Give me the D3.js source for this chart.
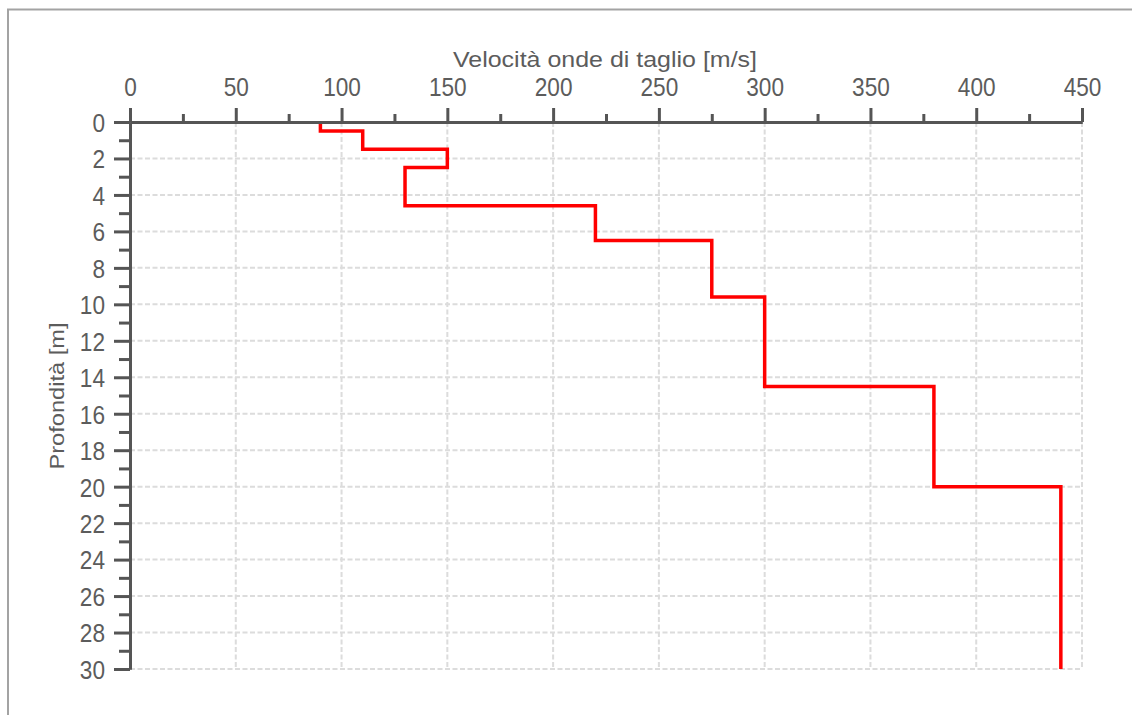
<!DOCTYPE html>
<html>
<head>
<meta charset="utf-8">
<script src="https://cdn.jsdelivr.net/npm/d3@7"></script>
<style>
  html, body { margin: 0; padding: 0; background: #fff; }
  svg { display: block; }
  .lbl { font-family: "Liberation Sans", Arial, sans-serif; fill: #5c5c5c; }
  .tick text { font-family: "Liberation Sans", Arial, sans-serif; font-size: 26px; fill: #5c5c5c;
               transform-box: fill-box; transform: scaleX(0.87); }
  .xaxis .tick text { transform-origin: center center; }
  .yaxis .tick text { transform-origin: right center; }
</style>
</head>
<body>
<svg id="chart" width="1132" height="715"></svg>
<script>
// ---- data ----
const velocity    = [90, 110, 150, 130, 220, 275, 300, 380, 440];      // Vs [m/s]
const layerTop    = [0, 0.5, 1.5, 2.5, 4.6, 6.5, 9.6, 14.5, 20];         // depth [m]
const layerBottom = [0.5, 1.5, 2.5, 4.6, 6.5, 9.6, 14.5, 20, 30];        // depth [m]
const xMajorTicks = [0, 50, 100, 150, 200, 250, 300, 350, 400, 450];
const xMinorTicks = [25, 75, 125, 175, 225, 275, 325, 375, 425];
const yMajorTicks = [0, 2, 4, 6, 8, 10, 12, 14, 16, 18, 20, 22, 24, 26, 28, 30];
const yMinorTicks = [1, 3, 5, 7, 9, 11, 13, 15, 17, 19, 21, 23, 25, 27, 29];
const xTitle = "Velocità onde di taglio [m/s]";
const yTitle = "Profondità [m]";

const svg = d3.select("#chart");

// frame (only top and left edges visible)
svg.append("path")
  .attr("d", "M8,716 L8,9.5 L1133,9.5")
  .attr("fill", "none").attr("stroke", "#a3a3a3").attr("stroke-width", 2);

const x = d3.scaleLinear().domain([0, 450]).range([130, 1082]);
const y = d3.scaleLinear().domain([0, 30]).range([122, 669]);

// grid
const grid = svg.append("g").attr("stroke", "#dcdcdc").attr("stroke-width", 2)
  .attr("stroke-dasharray", "5,2.5").attr("fill", "none");
grid.selectAll("line.v").data(xMajorTicks.filter(d => d > 0)).join("line")
  .attr("class", "v").attr("x1", d => x(d)).attr("x2", d => x(d))
  .attr("y1", y(0)).attr("y2", y(30));
grid.selectAll("line.h").data(yMajorTicks.filter(d => d > 0)).join("line")
  .attr("class", "h").attr("y1", d => y(d)).attr("y2", d => y(d))
  .attr("x1", x(0)).attr("x2", x(450));

// step profile
const pts = [];
velocity.forEach((v, i) => { pts.push([v, layerTop[i]]); pts.push([v, layerBottom[i]]); });
svg.append("path").datum(pts)
  .attr("fill", "none").attr("stroke", "#ff0000").attr("stroke-width", 3.5)
  .attr("stroke-linejoin", "miter")
  .attr("d", d3.line().x(d => x(d[0])).y(d => y(d[1])));

// axes
const axisColor = "#555555";
const xMinor = svg.append("g").attr("transform", `translate(0,${y(0)})`)
  .call(d3.axisTop(x).tickValues(xMinorTicks).tickSize(8).tickSizeOuter(0).tickFormat(""));
const xMajor = svg.append("g").attr("class", "xaxis").attr("transform", `translate(0,${y(0)})`)
  .call(d3.axisTop(x).tickValues(xMajorTicks).tickSize(14).tickSizeOuter(0).tickPadding(12).tickFormat(d3.format("d")));
const yMinor = svg.append("g").attr("transform", `translate(${x(0)},0)`)
  .call(d3.axisLeft(y).tickValues(yMinorTicks).tickSize(11).tickSizeOuter(0).tickFormat(""));
const yMajor = svg.append("g").attr("class", "yaxis").attr("transform", `translate(${x(0)},0)`)
  .call(d3.axisLeft(y).tickValues(yMajorTicks).tickSize(16).tickSizeOuter(0).tickPadding(9).tickFormat(d3.format("d")));

[xMinor, xMajor, yMinor, yMajor].forEach(g => {
  g.select(".domain").attr("stroke", axisColor).attr("stroke-width", 3);
  g.selectAll(".tick line").attr("stroke", axisColor).attr("stroke-width", 3);
  g.attr("font-size", null).attr("font-family", null);
});
yMajor.selectAll(".tick text").attr("dy", "0.36em");

// titles
svg.append("text").attr("class", "lbl")
  .attr("x", 605).attr("y", 67).attr("text-anchor", "middle")
  .attr("font-size", 22).attr("textLength", 304).attr("lengthAdjust", "spacingAndGlyphs")
  .text(xTitle);
svg.append("text").attr("class", "lbl")
  .attr("transform", "translate(64,396) rotate(-90)").attr("text-anchor", "middle")
  .attr("font-size", 21).attr("textLength", 147).attr("lengthAdjust", "spacingAndGlyphs")
  .text(yTitle);
</script>
</body>
</html>
